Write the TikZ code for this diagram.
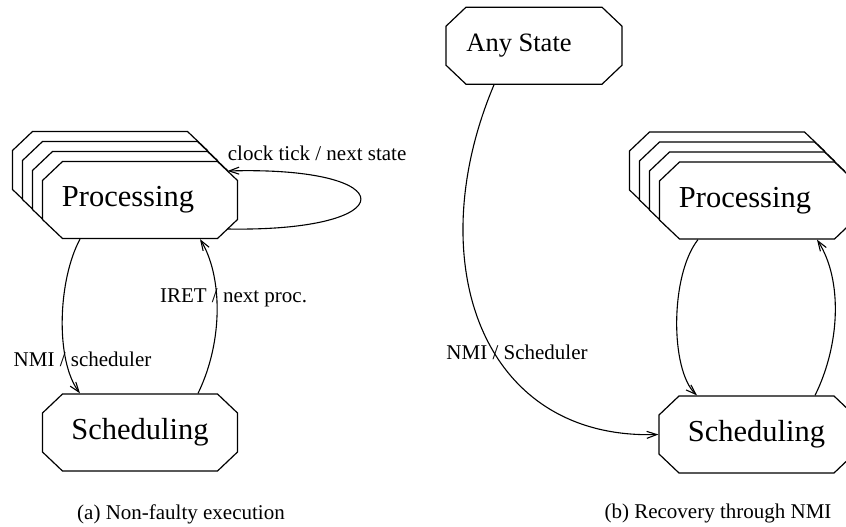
\documentclass[tikz,border=0pt]{standalone}
\usepackage{fontspec}
\setmainfont{Liberation Serif}
\usetikzlibrary{arrows.meta}
% \statebox{name}{x}{y}{width}{text}: octagonal state, 77pt high
\newcommand\statebox[5]{%
  \pgfmathsetmacro\stL{#2-#4/2}\pgfmathsetmacro\stR{#2+#4/2}%
  \pgfmathsetmacro\stT{#3-38.5}\pgfmathsetmacro\stB{#3+38.5}%
  \filldraw[boxline] ({\stL},{\stT+19}) -- ({\stL+20},{\stT}) -- ({\stR-20},{\stT})
    -- ({\stR},{\stT+19}) -- ({\stR},{\stB-19}) -- ({\stR-20},{\stB})
    -- ({\stL+20},{\stB}) -- ({\stL},{\stB-19}) -- cycle;
  \coordinate (#1-ne) at ({\stR-10},{\stT+9.5});
  \coordinate (#1-se) at ({\stR-10},{\stB-9.5});
  \node[statetext, minimum width=#4pt] (#1) at (#2,#3) {#5};}
\begin{document}
\begin{tikzpicture}[x=1pt,y=-1pt,
  boxline/.style={draw=black, fill=white, line width=1.2pt, line join=miter},
  statetext/.style={rectangle, inner sep=0pt, outer sep=0.6pt, minimum height=77pt,
    font=\fontsize{30.5}{36}\selectfont},
  arr/.style={line width=1.1pt, -{Straight Barb[length=10pt,width=7pt]}},
  lbl/.style={inner sep=0pt, font=\fontsize{21}{25}\selectfont},
  capt/.style={inner sep=0pt, font=\fontsize{21}{25}\selectfont}]
\clip (0,0) rectangle (846,527);

% (a) stacked processing states, back to front
\statebox{procA3}{110}{170}{195}{}
\statebox{procA2}{120}{180}{195}{}
\statebox{procA1}{130}{190}{195}{}
\statebox{procA}{140}{200}{195}{Processing\hspace*{24pt}}
\statebox{schA}{140}{432.5}{195}{Scheduling}

\draw[arr] (procA-se) .. controls (405,232) and (405,166) .. (procA-ne);
\draw[arr] ([xshift=-60pt]procA.south) .. controls (58,280) and (55,360) .. ([xshift=-60pt]schA.north);
\draw[arr] ([xshift=58pt]schA.north) .. controls (224,340) and (222,275) .. ([xshift=60pt]procA.south);

\node[lbl, anchor=base west] (lclock) at (227.7,160) {clock tick / next state};
\node[lbl] (liret) at (233.5,298) {IRET / next proc.};
\node[lbl] (lnmiA) at (82.5,359) {NMI / scheduler};
\node[capt, anchor=base] (captA) at (181,519) {(a) Non-faulty execution};

% (b) recovery from any state
\statebox{any}{534}{45.7}{176}{\fontsize{26.5}{32}\selectfont Any State\hspace*{30pt}}
\statebox{procB3}{727}{170.5}{195}{}
\statebox{procB2}{737}{180.5}{195}{}
\statebox{procB1}{747}{190.5}{195}{}
\statebox{procB}{757}{200.5}{195}{Processing\hspace*{24pt}}
\statebox{schB}{756.5}{434.5}{195}{Scheduling}

\draw[arr] ([xshift=-40pt]any.south) .. controls (420,260) and (480,440) .. (schB.west);
\draw[arr] ([xshift=-59pt]procB.south) .. controls (670,275) and (670,370) .. ([xshift=-59.5pt]schB.north);
\draw[arr] ([xshift=58.5pt]schB.north) .. controls (840,345) and (843,280) .. ([xshift=60pt]procB.south);

\node[lbl] (lnmiB) at (517,352) {NMI / Scheduler};
\node[capt, anchor=base] (captB) at (718,518) {(b) Recovery through NMI};
\end{tikzpicture}
\end{document}
